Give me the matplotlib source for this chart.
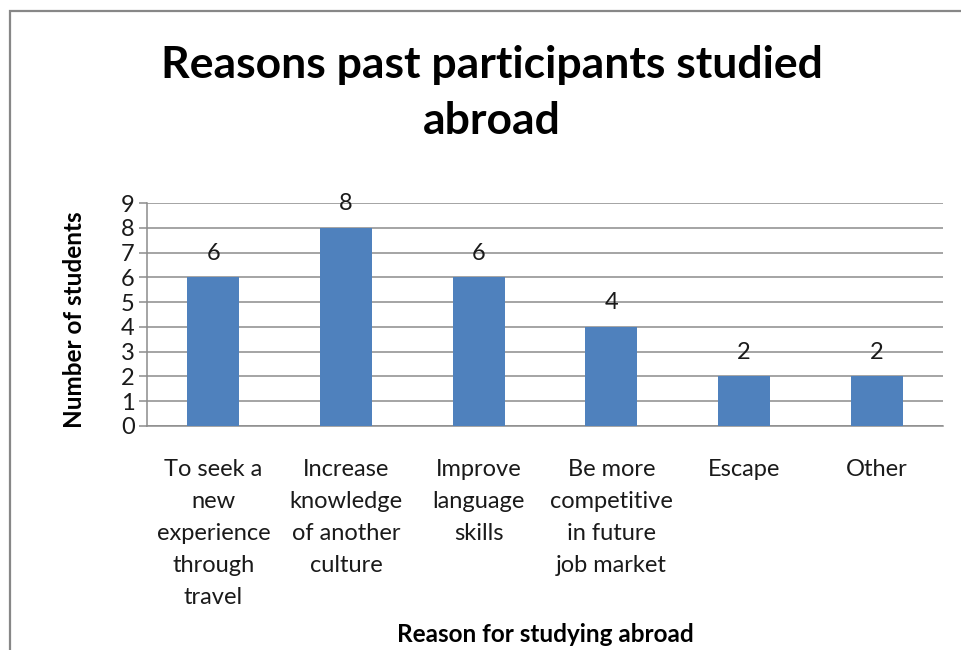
import matplotlib.pyplot as plt
from matplotlib.patches import Rectangle

plt.rcParams['font.family'] = ['Lato', 'DejaVu Sans']

reasons = ['To seek a\nnew\nexperience\nthrough\ntravel',
           'Increase\nknowledge\nof another\nculture',
           'Improve\nlanguage\nskills',
           'Be more\ncompetitive\nin future\njob market',
           'Escape',
           'Other']
students = [6, 8, 6, 4, 2, 2]

W, H = 962, 650
fig = plt.figure(figsize=(W / 100, H / 100), dpi=100)

# outer chart border (runs off the right/bottom edge)
fig.patches.append(Rectangle((10 / W, -0.2), 1.2, 1 - 11 / H + 0.2,
                             transform=fig.transFigure, fill=False,
                             edgecolor='#878787', linewidth=1.6))

ax = fig.add_axes([147 / W, 1 - 426 / H, (943 - 147) / W, (426 - 203) / H])

x = range(len(reasons))
ax.bar(x, students, width=0.39, color='#4F81BD', zorder=3)
for xi, v in zip(x, students):
    ax.text(xi, v + 0.55, str(v), ha='center', va='bottom', fontsize=17,
            color='#1a1a1a', zorder=4)

ax.set_xlim(-0.5, len(reasons) - 0.5)
ax.set_ylim(0, 9)
ax.set_yticks(range(10))
ax.yaxis.grid(True, color='#8c8c8c', linewidth=1.1, zorder=0)
ax.set_axisbelow(True)

for side in ['top', 'right']:
    ax.spines[side].set_visible(False)
ax.spines['left'].set_color('#8c8c8c')
ax.spines['bottom'].set_color('#8c8c8c')
ax.spines['left'].set_linewidth(1.1)
ax.spines['bottom'].set_linewidth(1.1)

ax.tick_params(axis='y', length=6, width=1.1, color='#8c8c8c', labelsize=17,
               pad=3, labelcolor='#1a1a1a')
ax.tick_params(axis='x', length=0, labelsize=17, pad=24, labelcolor='#1a1a1a')
ax.set_xticks(list(x))
ax.set_xticklabels(reasons, linespacing=1.64)

fig.text(75 / W, 1 - 320 / H, 'Number of students', rotation=90,
         ha='center', va='center', fontsize=17.5, fontweight='bold')
fig.text(545 / W, 1 - 635 / H, 'Reason for studying abroad',
         ha='center', va='center', fontsize=17.5, fontweight='bold')
fig.text(492 / W, 1 - 93 / H, 'Reasons past participants studied\nabroad',
         ha='center', va='center', fontsize=32, fontweight='bold',
         linespacing=1.5)

fig.savefig('out.png', dpi=100)
